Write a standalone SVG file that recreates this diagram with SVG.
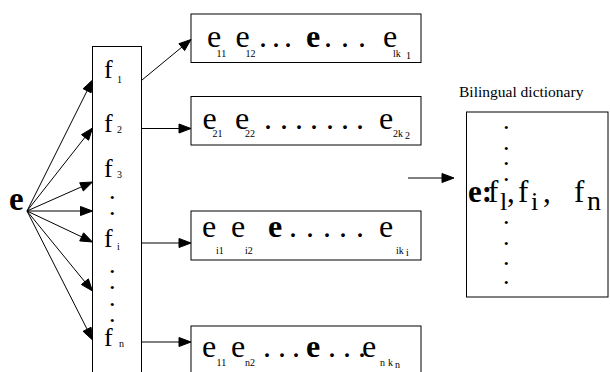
<svg xmlns="http://www.w3.org/2000/svg" width="610" height="372" viewBox="0 0 610 372">
<g id="source">
<text x="9" y="210" font-weight="bold" font-size="33" font-family="Times New Roman">e</text>
</g>

<g id="fbox" font-size="26">
<rect x="92.5" y="46.5" width="49" height="340" fill="#fff" stroke="#000"/>
<text font-family="Times New Roman"><tspan x="104" y="78">f</tspan><tspan x="117" y="83" font-size="10">1</tspan></text>
<text font-family="Times New Roman"><tspan x="104" y="132">f</tspan><tspan x="117" y="133" font-size="10">2</tspan></text>
<text font-family="Times New Roman"><tspan x="104" y="177">f</tspan><tspan x="117" y="178" font-size="10">3</tspan></text>
<text x="109 109" y="198.5 214.5" font-family="Times New Roman">..</text>
<text font-family="Times New Roman"><tspan x="104" y="247">f</tspan><tspan x="117" y="250" font-size="10">i</tspan></text>
<text x="109 109 109 109" y="272.5 288.5 305.5 321.5" font-family="Times New Roman">....</text>
<text font-family="Times New Roman"><tspan x="104" y="346">f</tspan><tspan x="119" y="347" font-size="10">n</tspan></text>
</g>

<g id="row1" font-size="32">
<rect x="191" y="14" width="230" height="48.5" fill="#fff" stroke="#000"/>
<text font-family="Times New Roman"><tspan x="207" y="47">e</tspan><tspan x="216.5" y="57" font-size="10">11</tspan><tspan x="235.5" y="47">e</tspan><tspan x="245.5" y="57" font-size="10">12</tspan><tspan x="259 272 284" y="47">...</tspan><tspan x="306" y="47" font-weight="bold">e</tspan><tspan x="324 341 358" y="47">...</tspan><tspan x="383" y="47">e</tspan><tspan x="393" y="57" font-size="10">lk</tspan><tspan x="406" y="59" font-size="10">1</tspan></text>
</g>

<g id="row2" font-size="32">
<rect x="191" y="96.5" width="230" height="48.5" fill="#fff" stroke="#000"/>
<text font-family="Times New Roman"><tspan x="202.5" y="129">e</tspan><tspan x="212.5" y="137" font-size="10">21</tspan><tspan x="235" y="129">e</tspan><tspan x="245" y="137" font-size="10">22</tspan><tspan x="264 280 295 310 326 341 356" y="129">.......</tspan><tspan x="379" y="129">e</tspan><tspan x="393" y="137" font-size="10">2k</tspan><tspan x="405" y="139" font-size="10">2</tspan></text>
</g>

<g id="row3" font-size="32">
<rect x="191" y="211" width="230" height="49" fill="#fff" stroke="#000"/>
<text font-family="Times New Roman"><tspan x="202" y="237">e</tspan><tspan x="216" y="254" font-size="10">i1</tspan><tspan x="231" y="237">e</tspan><tspan x="245" y="254" font-size="10">i2</tspan><tspan x="268" y="237" font-weight="bold">e</tspan><tspan x="289 306 323 339 356" y="237">.....</tspan><tspan x="379" y="237">e</tspan><tspan x="396" y="254" font-size="10">ik</tspan><tspan x="406" y="256" font-size="10">i</tspan></text>
</g>

<g id="row4" font-size="32">
<rect x="191" y="326" width="230" height="60" fill="#fff" stroke="#000"/>
<text font-family="Times New Roman"><tspan x="202" y="357">e</tspan><tspan x="216.5" y="365.5" font-size="10">11</tspan><tspan x="231" y="357">e</tspan><tspan x="245" y="365.5" font-size="10">n2</tspan><tspan x="263 278 292" y="357">...</tspan><tspan x="306" y="357" font-weight="bold">e</tspan><tspan x="328 343 358" y="357">...</tspan><tspan x="362" y="357">e</tspan><tspan x="380" y="365.5" font-size="10">n</tspan><tspan x="388" y="365.5" font-size="10">k</tspan><tspan x="395" y="368" font-size="10">n</tspan></text>
</g>

<g id="dictionary">
<text x="459" y="97" font-size="15.5" font-family="Times New Roman">Bilingual dictionary</text>
<rect x="466.5" y="112" width="141.5" height="185" fill="#fff" stroke="#000"/>
<text x="503 503 503 503" y="128.5 149.5 164.5 180.5" font-size="26" font-family="Times New Roman">....</text>
<text font-size="31" font-family="Times New Roman"><tspan x="468" y="202" font-weight="bold">e:</tspan><tspan x="488" y="202">f</tspan><tspan x="500" y="210" font-size="26">l</tspan><tspan x="507" y="202">,</tspan><tspan x="518" y="202">f</tspan><tspan x="531" y="210" font-size="26">i</tspan><tspan x="543" y="202">,</tspan><tspan x="574" y="202">f</tspan><tspan x="587" y="210" font-size="28">n</tspan></text>
<text x="503 503 503 503" y="223.5 244.5 264.5 283.5" font-size="26" font-family="Times New Roman">....</text>
</g>

<g id="connectors" stroke="#000" stroke-width="1" fill="#000">
<line x1="27" y1="211" x2="88" y2="89"/>
<polygon points="92.5,80 91.16,92.75 83.11,88.72"/>
<line x1="27" y1="211" x2="86" y2="136"/>
<polygon points="92.5,128 88.6,140.21 81.53,134.63"/>
<line x1="27" y1="211" x2="82" y2="186.6"/>
<polygon points="92.5,182 83.35,190.97 79.71,182.74"/>
<line x1="27" y1="211" x2="81" y2="211"/>
<polygon points="92.5,211 80.5,215.5 80.5,206.5"/>
<line x1="27" y1="211" x2="82" y2="237"/>
<polygon points="92.5,242 79.73,240.93 83.58,232.8"/>
<line x1="27" y1="211" x2="85" y2="282"/>
<polygon points="92.5,291 81.42,284.57 88.38,278.86"/>
<line x1="27" y1="211" x2="87.5" y2="330"/>
<polygon points="92.5,340 83.06,331.34 91.08,327.26"/>
<line x1="142" y1="80" x2="182" y2="47"/>
<polygon points="191,39.5 184.62,50.61 178.88,43.68"/>
<line x1="142" y1="128.5" x2="180" y2="128.5"/>
<polygon points="191,128.5 179,124 179,133"/>
<line x1="142" y1="243" x2="180" y2="243"/>
<polygon points="191,243 179,238.5 179,247.5"/>
<line x1="142" y1="342" x2="180" y2="342"/>
<polygon points="191,342 179,337.5 179,346.5"/>
<line x1="408" y1="178" x2="443" y2="178"/>
<polygon points="454,178 442,173.5 442,182.5"/>
</g>
</svg>
